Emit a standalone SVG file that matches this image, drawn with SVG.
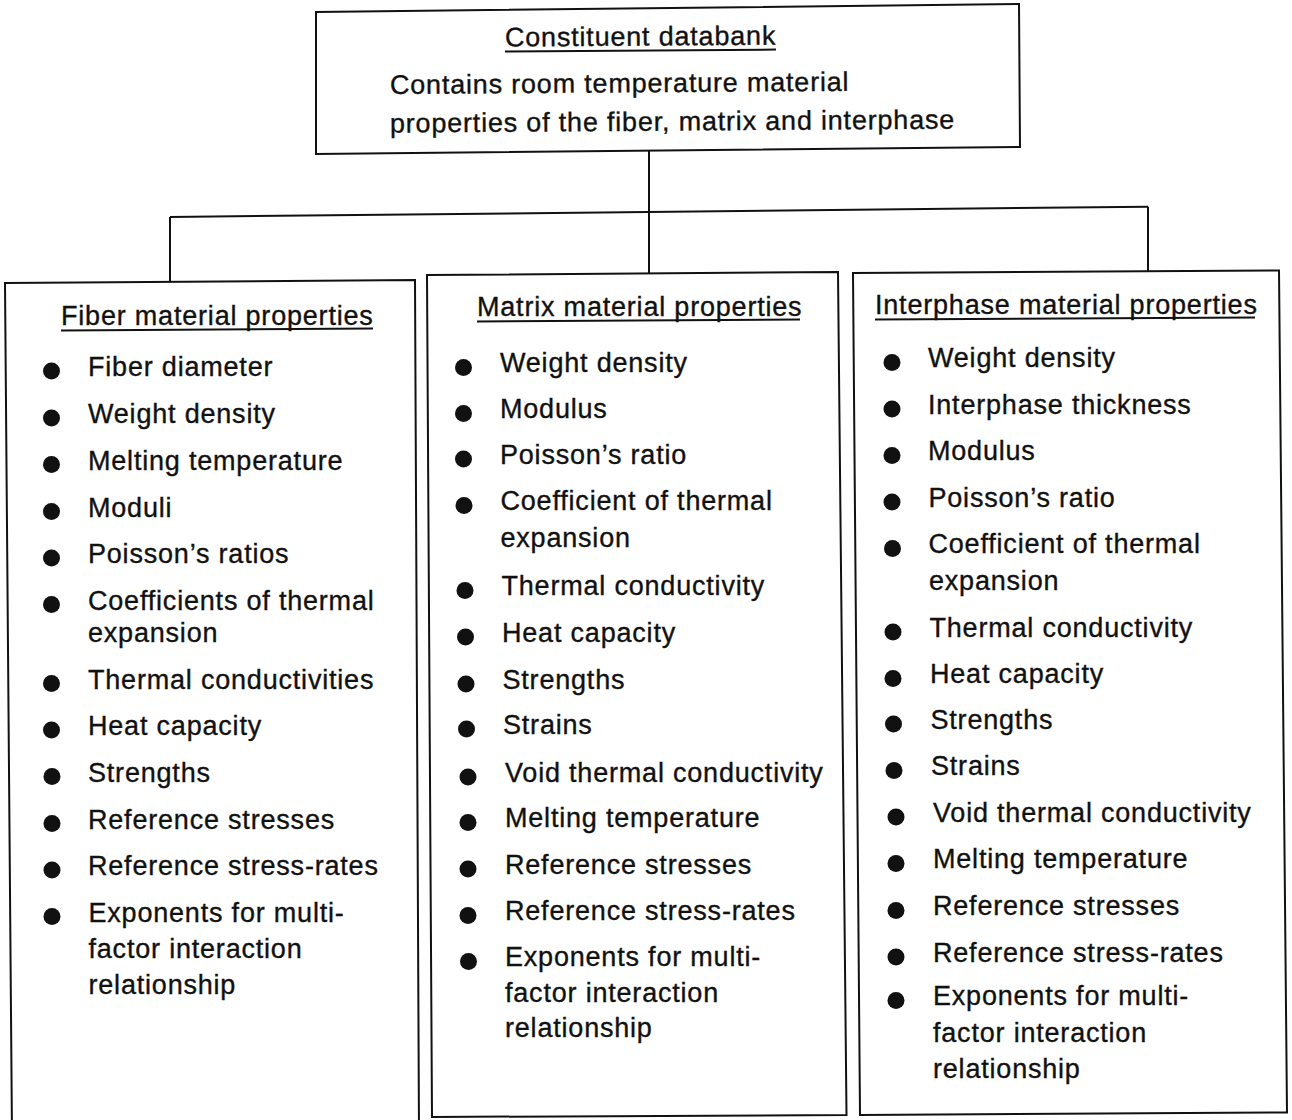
<svg xmlns="http://www.w3.org/2000/svg" width="1292" height="1120" viewBox="0 0 1292 1120">
<style>
.bg{fill:#fff}
.box{fill:none;stroke:#111;stroke-width:2;stroke-linejoin:miter}
.conn{fill:none;stroke:#111;stroke-width:2}
.ul{stroke:#111;stroke-width:2}
.t{font-family:"Liberation Sans",Arial,Helvetica,sans-serif;font-size:27px;letter-spacing:0.8px;fill:#111;stroke:#111;stroke-width:0.35px}
.b{fill:#111}
</style>
<rect class="bg" x="0" y="0" width="1292" height="1120"/>
<g id="connectors">
<line class="conn" x1="649" y1="151" x2="649" y2="274"/>
<line class="conn" x1="170" y1="217" x2="1148" y2="206.7"/>
<line class="conn" x1="170" y1="217" x2="170" y2="282"/>
<line class="conn" x1="1148" y1="206.7" x2="1148" y2="271.5"/>
</g>
<g id="node-databank">
<polygon class="box" points="316,12 1019,4 1020,147 316,154"/>
<text class="t" x="505" y="46.5" transform="rotate(-0.4 505 46.5)">Constituent databank</text>
<line class="ul" x1="505" y1="51.5" x2="776" y2="49.6"/>
<text class="t" x="390" y="94" transform="rotate(-0.4 390 94)">Contains room temperature material</text>
<text class="t" x="390" y="132.5" transform="rotate(-0.4 390 132.5)">properties of the fiber, matrix and interphase</text>
</g>
<g id="node-fiber">
<polygon class="box" points="5,283 415,280 419,1135 12,1135"/>
<text class="t" x="61" y="324.5">Fiber material properties</text>
<line class="ul" x1="61" y1="330.5" x2="373" y2="328.5"/>
<circle class="b" cx="51.5" cy="371" r="8.5"/><text class="t" x="88" y="376">Fiber diameter</text>
<circle class="b" cx="51.5" cy="418" r="8.5"/><text class="t" x="88" y="423">Weight density</text>
<circle class="b" cx="51.5" cy="464.5" r="8.5"/><text class="t" x="88" y="469.5">Melting temperature</text>
<circle class="b" cx="51.5" cy="511.5" r="8.5"/><text class="t" x="88" y="516.5">Moduli</text>
<circle class="b" cx="51.5" cy="558" r="8.5"/><text class="t" x="88" y="563">Poisson’s ratios</text>
<circle class="b" cx="51.5" cy="604.5" r="8.5"/><text class="t" x="88" y="609.5">Coefficients of thermal</text>
<text class="t" x="88" y="642">expansion</text>
<circle class="b" cx="51.5" cy="683.5" r="8.5"/><text class="t" x="88" y="688.5">Thermal conductivities</text>
<circle class="b" cx="51.5" cy="730" r="8.5"/><text class="t" x="88" y="735">Heat capacity</text>
<circle class="b" cx="52" cy="776.5" r="8.5"/><text class="t" x="88" y="781.5">Strengths</text>
<circle class="b" cx="52" cy="823.5" r="8.5"/><text class="t" x="88" y="828.5">Reference stresses</text>
<circle class="b" cx="52" cy="870" r="8.5"/><text class="t" x="88" y="875">Reference stress-rates</text>
<circle class="b" cx="52" cy="916.5" r="8.5"/><text class="t" x="88.5" y="921.5">Exponents for multi-</text>
<text class="t" x="88.5" y="958">factor interaction</text>
<text class="t" x="88.5" y="993.5">relationship</text>
</g>
<g id="node-matrix">
<polygon class="box" points="427,275 838,272 846.5,1115 432,1117"/>
<text class="t" x="477" y="315.5">Matrix material properties</text>
<line class="ul" x1="477" y1="321.5" x2="800" y2="319.5"/>
<circle class="b" cx="463.5" cy="367.5" r="8.5"/><text class="t" x="500" y="372">Weight density</text>
<circle class="b" cx="463.5" cy="413.5" r="8.5"/><text class="t" x="500" y="418">Modulus</text>
<circle class="b" cx="463.5" cy="459" r="8.5"/><text class="t" x="500" y="463.5">Poisson’s ratio</text>
<circle class="b" cx="464" cy="505.5" r="8.5"/><text class="t" x="500.5" y="510">Coefficient of thermal</text>
<text class="t" x="500.5" y="547">expansion</text>
<circle class="b" cx="465" cy="590.5" r="8.5"/><text class="t" x="501.5" y="595">Thermal conductivity</text>
<circle class="b" cx="465.5" cy="637" r="8.5"/><text class="t" x="502" y="641.5">Heat capacity</text>
<circle class="b" cx="466" cy="684" r="8.5"/><text class="t" x="502.5" y="688.5">Strengths</text>
<circle class="b" cx="466.5" cy="729" r="8.5"/><text class="t" x="503" y="733.5">Strains</text>
<circle class="b" cx="468" cy="777" r="8.5"/><text class="t" x="505" y="781.5">Void thermal conductivity</text>
<circle class="b" cx="468" cy="822.5" r="8.5"/><text class="t" x="505" y="827">Melting temperature</text>
<circle class="b" cx="468" cy="869" r="8.5"/><text class="t" x="505" y="873.5">Reference stresses</text>
<circle class="b" cx="468" cy="915.5" r="8.5"/><text class="t" x="505" y="920">Reference stress-rates</text>
<circle class="b" cx="468.5" cy="961.5" r="8.5"/><text class="t" x="505" y="966">Exponents for multi-</text>
<text class="t" x="505" y="1001.5">factor interaction</text>
<text class="t" x="505" y="1037">relationship</text>
</g>
<g id="node-interphase">
<polygon class="box" points="853,273 1279,270.5 1287,1112.5 860,1115"/>
<text class="t" x="875" y="313.5">Interphase material properties</text>
<line class="ul" x1="875" y1="319.5" x2="1255" y2="317.5"/>
<circle class="b" cx="892" cy="362.5" r="8.5"/><text class="t" x="928" y="367">Weight density</text>
<circle class="b" cx="892" cy="409" r="8.5"/><text class="t" x="928" y="413.5">Interphase thickness</text>
<circle class="b" cx="892" cy="455.5" r="8.5"/><text class="t" x="928" y="460">Modulus</text>
<circle class="b" cx="892" cy="502" r="8.5"/><text class="t" x="928.5" y="506.5">Poisson’s ratio</text>
<circle class="b" cx="892.5" cy="548.5" r="8.5"/><text class="t" x="928.5" y="553">Coefficient of thermal</text>
<text class="t" x="929" y="590">expansion</text>
<circle class="b" cx="893" cy="632" r="8.5"/><text class="t" x="929.5" y="636.5">Thermal conductivity</text>
<circle class="b" cx="893" cy="678.5" r="8.5"/><text class="t" x="930" y="683">Heat capacity</text>
<circle class="b" cx="893.5" cy="724" r="8.5"/><text class="t" x="930.5" y="728.5">Strengths</text>
<circle class="b" cx="894" cy="770.5" r="8.5"/><text class="t" x="931" y="775">Strains</text>
<circle class="b" cx="896" cy="817" r="8.5"/><text class="t" x="933" y="821.5">Void thermal conductivity</text>
<circle class="b" cx="896" cy="863.5" r="8.5"/><text class="t" x="933" y="868">Melting temperature</text>
<circle class="b" cx="896" cy="910.5" r="8.5"/><text class="t" x="933" y="915">Reference stresses</text>
<circle class="b" cx="896" cy="957" r="8.5"/><text class="t" x="933" y="961.5">Reference stress-rates</text>
<circle class="b" cx="896" cy="1000.5" r="8.5"/><text class="t" x="933" y="1005">Exponents for multi-</text>
<text class="t" x="933" y="1041.5">factor interaction</text>
<text class="t" x="933" y="1078">relationship</text>
</g>
</svg>
